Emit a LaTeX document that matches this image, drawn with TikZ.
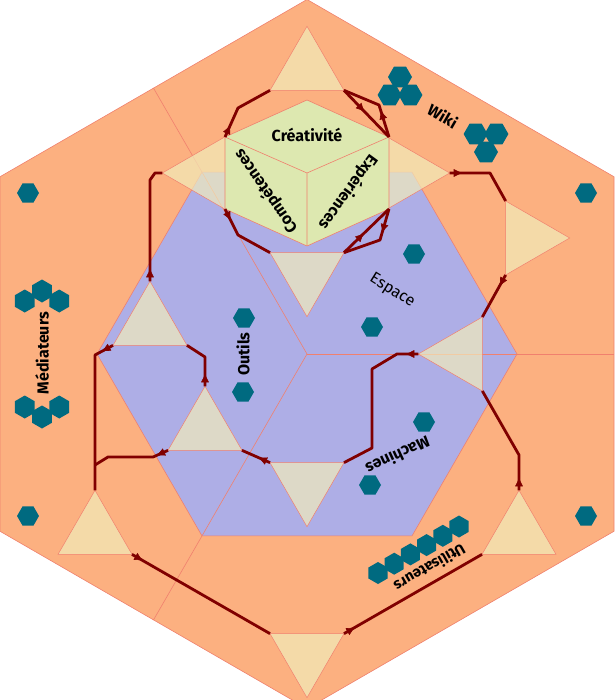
\documentclass[tikz,border=0pt]{standalone}
\usepackage{fontspec}
\setmainfont{Fira Sans}
\usetikzlibrary{shapes.geometric,arrows.meta,decorations.markings}

\definecolor{fondorange}{RGB}{252,176,128}
\definecolor{fondbleu}{RGB}{174,174,230}
\definecolor{triclair}{RGB}{242,236,186}
\definecolor{cubevert}{RGB}{221,232,176}
\definecolor{bordsaumon}{RGB}{240,128,110}
\definecolor{hexbleu}{RGB}{0,106,128}
\definecolor{rougeflux}{RGB}{128,0,0}

\tikzset{
  bord/.style={draw=bordsaumon, line width=0.6pt},
  tri/.style={regular polygon, regular polygon sides=3, minimum size=85.4pt,
    inner sep=0pt, outer sep=0pt, fill=triclair, fill opacity=0.7,
    draw=bordsaumon, line width=0.5pt},
  trihaut/.style={tri},
  tribas/.style={tri, shape border rotate=180},
  trigauche/.style={tri, shape border rotate=90},
  tridroite/.style={tri, shape border rotate=-90},
  alveole/.style={regular polygon, regular polygon sides=6, minimum size=#1,
    inner sep=0pt, outer sep=0pt, fill=hexbleu},
  alveole/.default=22pt,
  alveoleplat/.style={alveole=#1, shape border rotate=30},
  alveoleplat/.default=22pt,
  etiquette/.style={font=\fontsize{16}{19}\selectfont\bfseries, inner sep=0pt},
  chemin/.style={draw=rougeflux, color=rougeflux, line width=2.8pt, line join=round},
  fleche/.style={postaction={decorate, decoration={markings,
    mark=at position #1 with {\pgfsetlinewidth{0.6pt}\arrow{Latex[length=9pt,width=8pt]}}}}},
  fleche/.default=13pt
}

\begin{document}
\begin{tikzpicture}[x=1pt,y=-1pt]
\useasboundingbox (0,0) rectangle (614,700);

% fond : grand hexagone et zone centrale
\path[fill=fondorange, bord] (307,-0.5) -- (614,176.75) -- (614,531.25) -- (307,708.5)
  -- (0,531.25) -- (0,176.75) -- cycle;
\path[fill=fondbleu, bord] (517,354) -- (412,172.1) -- (202,172.1) -- (97,354)
  -- (202,535.9) -- (412,535.9) -- cycle;

% rayons qui separent les trois secteurs
\coordinate (centre) at (307,354);
\draw[bord] (centre) -- (153.5,88.1);
\draw[bord] (centre) -- (153.5,619.9);
\draw[bord] (centre) -- (614,354);

% triangles clairs
\node[trihaut]   (t1)  at (307,69)  {};
\node[trigauche] (t2)  at (205,173) {};
\node[tridroite] (t3)  at (407,173) {};
\node[tribas]    (t4)  at (307,274) {};
\node[tridroite] (t5)  at (527,238) {};
\node[trigauche] (t6)  at (461,354) {};
\node[trihaut]   (t7)  at (519,533) {};
\node[tribas]    (t8)  at (307,655) {};
\node[trihaut]   (t9)  at (95,533)  {};
\node[trihaut]   (t10) at (150,324) {};
\node[trihaut]   (t11) at (205,429) {};
\node[tribas]    (t12) at (307,484) {};

% cube
\coordinate (cT)  at (307,100);
\coordinate (cUL) at (225,137);
\coordinate (cUR) at (389,137);
\coordinate (cLL) at (225,209);
\coordinate (cLR) at (389,209);
\coordinate (cB)  at (307,246);
\coordinate (cC)  at (307,173);
\path[fill=cubevert, bord] (cT) -- (cUR) -- (cLR) -- (cB) -- (cLL) -- (cUL) -- cycle;
\draw[bord] (cUL) -- (cC) -- (cUR) (cC) -- (cB);

% alveoles
\foreach \x/\y [count=\i] in {28/193, 28/516, 586/193, 586/516, 414/254, 372/327,
    244/318, 243/392, 424/422, 370/485}
  \node[alveole] (seul\i) at (\x,\y) {};
\foreach \x/\y [count=\i] in {400/77, 389.6/95, 410.4/95, 475.6/134, 496.4/134, 486/152}
  \node[alveole=24pt] (wiki\i) at (\x,\y) {};
\foreach \x/\y [count=\i] in {42/291, 24.75/301, 59.25/301, 24.75/407, 59.25/407, 42/417}
  \node[alveoleplat=23pt] (med\i) at (\x,\y) {};
\foreach \x/\y [count=\i] in {378/573, 394.2/563.7, 410.4/554.4, 426.6/545.1, 442.8/535.8, 459/526.5}
  \node[alveoleplat] (util\i) at (\x,\y) {};

% textes
\node[etiquette] (creativite) at (307,135) {Créativité};
\node[etiquette, rotate=125] (competences) at (266,191) {Compétences};
\node[etiquette, rotate=234] (experiences) at (348,192) {Expériences};
\node[etiquette, rotate=-30] (wiki) at (443,116) {Wiki};
\node[etiquette, font=\fontsize{16}{19}\selectfont, rotate=-32] (espace) at (392,291) {Espace};
\node[etiquette, rotate=90] (outils) at (243,354) {Outils};
\node[etiquette, rotate=90] (mediateurs) at (42,353) {Médiateurs};
\node[etiquette, rotate=205] (machines) at (398,456) {Machines};
\node[etiquette, font=\fontsize{15}{18}\selectfont\bfseries, rotate=210] (utilisateurs) at (430,568) {Utilisateurs};

% flux
\coordinate (jonction) at (95,465);
\draw[chemin, fleche] (cUL) -- (238,108) -- (t1.corner 2);
\draw[chemin, fleche=30pt] (t1.corner 3) -- (cUR);
\draw[chemin, fleche=28pt] (cUR) -- (379,105) -- (t1.corner 3);
\draw[chemin, fleche] (cLL) -- (238,235) -- (t4.corner 3);
\draw[chemin, fleche=28pt] (t4.corner 2) -- (cLR);
\draw[chemin, fleche=25pt] (cLR) -- (380,240) -- (t4.corner 2);
\draw[chemin, fleche] (t10.corner 1) -- (150,180) -- (155,173) -- (t2.corner 1);
\draw[chemin, fleche] (t10.corner 2) -- (95,355) -- (t9.corner 1);
\draw[chemin, fleche] (t11.corner 2) -- (153,457) -- (108,457) -- (jonction);
\draw[chemin, fleche] (t11.corner 1) -- (205,357) -- (t10.corner 3);
\draw[chemin, fleche] (t12.corner 3) -- (t11.corner 3);
\draw[chemin, fleche] (t6.corner 1) -- (397,354) -- (372,369) -- (372,448) -- (t12.corner 2);
\draw[chemin, fleche] (t7.corner 1) -- (519,455) -- (t6.corner 2);
\draw[chemin, fleche] (t5.corner 3) -- (t6.corner 3);
\draw[chemin, fleche] (t3.corner 1) -- (490,173) -- (t5.corner 2);
\draw[chemin, fleche] (t9.corner 3) -- (t8.corner 3);
\draw[chemin, fleche] (t8.corner 2) -- (t7.corner 2);
\end{tikzpicture}
\end{document}
